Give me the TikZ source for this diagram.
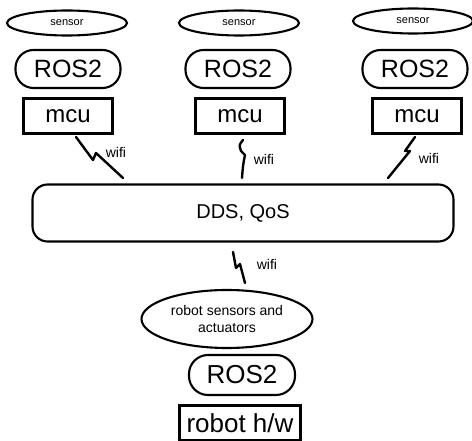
\documentclass[tikz,border=0pt]{standalone}
\usepackage{fontspec}
\setmainfont{Liberation Sans}
\usetikzlibrary{shapes.geometric}

\tikzset{
  px/.style={x=1pt,y=-1pt},
  sensorbox/.style={ellipse,draw,line width=2.1pt,inner sep=0pt,
    minimum width=120pt,minimum height=25pt,font=\fontsize{11}{13}\selectfont},
  rosbox/.style={draw,line width=2.1pt,rounded corners=18pt,inner sep=0pt,
    minimum width=105pt,minimum height=38pt,font=\fontsize{25}{28}\selectfont},
  mcubox/.style={draw,line width=2.1pt,inner sep=0pt,
    minimum width=89pt,minimum height=35pt,font=\fontsize{24}{26}\selectfont},
  busbox/.style={draw,line width=2.1pt,rounded corners=15pt,inner sep=0pt,
    minimum width=421pt,minimum height=57pt,font=\fontsize{20}{22}\selectfont},
  bolt/.style={draw,line width=2.4pt,line join=round,line cap=round},
  wifilabel/.style={font=\fontsize{14}{16}\selectfont,inner sep=0pt},
}

\begin{document}
\begin{tikzpicture}[px]
  \useasboundingbox (0,0) rectangle (472,441);

  % three sensor stacks
  \node[sensorbox] (s1) at (67,23) {sensor};
  \node[sensorbox] (s2) at (239,23) {sensor};
  \node[sensorbox] (s3) at (413,21) {sensor};

  \node[rosbox] (r1) at (68,69) {ROS2};
  \node[rosbox] (r2) at (238,69) {ROS2};
  \node[rosbox] (r3) at (415,69) {ROS2};

  \node[mcubox] (m1) at (68,116) {mcu};
  \node[mcubox] (m2) at (240,116) {mcu};
  \node[mcubox] (m3) at (417,116) {mcu};

  % middleware bus
  \node[busbox] (dds) at (243,213) {DDS, QoS};

  % robot stack
  \node[ellipse,draw,line width=2.1pt,inner sep=0pt,minimum width=171pt,
        minimum height=58pt,align=center,font=\fontsize{14}{17}\selectfont]
        (rsa) at (227,319) {robot sensors and\\actuators};
  \node[rosbox,minimum width=106pt,minimum height=40pt,rounded corners=19pt,
        font=\fontsize{26}{28}\selectfont] (r4) at (242,375) {ROS2};
  \node[mcubox,minimum width=121pt,minimum height=35pt,
        font=\fontsize{26}{28}\selectfont] (hw) at (240,423) {robot h/w};

  % wireless links (lightning strokes)
  \coordinate (w1a) at (76,137);  \coordinate (w1b) at (123,178);
  \coordinate (w2a) at (243,140); \coordinate (w2b) at (242,178);
  \coordinate (w3a) at (415,137); \coordinate (w3b) at (388,178);
  \coordinate (w4a) at (233,252); \coordinate (w4b) at (245,283);

  \draw[bolt] (w1a) -- ++(17,23) -- ++(3,-7) -- (w1b);
  \draw[bolt] (w2a) .. controls (239,145) .. (241,151) -- (245,155)
              .. controls (243,165) .. (w2b);
  \draw[bolt] (w3a) -- ++(-10,14) -- ++(5,0) -- (w3b);
  \draw[bolt] (w4a) -- ++(3,16) -- ++(4,-4) -- (w4b);

  \node[wifilabel] (l1) at (116,152) {wifi};
  \node[wifilabel] (l2) at (264,159) {wifi};
  \node[wifilabel] (l3) at (429,158) {wifi};
  \node[wifilabel] (l4) at (267,264) {wifi};
\end{tikzpicture}
\end{document}
